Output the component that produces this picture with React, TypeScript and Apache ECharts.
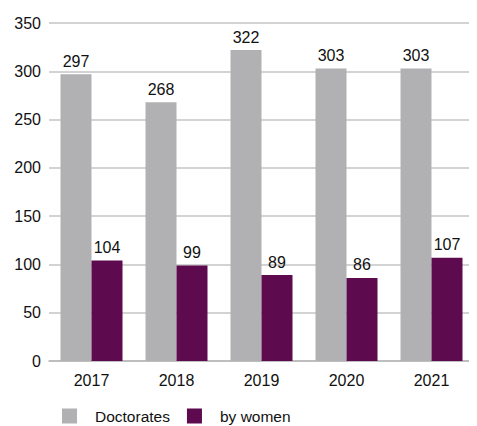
import React, { useEffect, useRef } from "react";
import * as echarts from "echarts";

const years = ["2017", "2018", "2019", "2020", "2021"];
const doctorates = [297, 268, 322, 303, 303];
const byWomen = [104, 99, 89, 86, 107];
const yTicks = { min: 0, max: 350, interval: 50 };

export default function App() {
  const ref = useRef<HTMLDivElement>(null);
  useEffect(() => {
    const chart = echarts.init(ref.current!, null, { renderer: "svg" });
    const font = "Liberation Sans, Arial, sans-serif";
    const label = {
      show: true,
      position: "top",
      distance: 5,
      color: "#111",
      fontSize: 16,
      fontFamily: font,
    };
    chart.setOption({
      animation: false,
      grid: { left: 49, right: 3, top: 23, bottom: 65 },
      xAxis: {
        type: "category",
        data: years,
        axisTick: { show: false },
        axisLine: { lineStyle: { color: "#b8b8b8", width: 1.5 } },
        axisLabel: { color: "#111", fontSize: 16, fontFamily: font, margin: 11 },
      },
      yAxis: {
        type: "value",
        min: yTicks.min,
        max: yTicks.max,
        interval: yTicks.interval,
        axisLabel: { color: "#111", fontSize: 16, fontFamily: font, margin: 8 },
        splitLine: { lineStyle: { color: "#c4c4c4", width: 1.5 } },
      },
      legend: {
        left: 57,
        top: 403,
        itemWidth: 15,
        itemHeight: 15,
        itemGap: 17,
        icon: "rect",
        textStyle: { color: "#111", fontSize: 15.5, fontFamily: font, padding: [0, 0, 0, 13] },
        data: ["Doctorates", "by women"],
      },
      series: [
        {
          name: "Doctorates",
          type: "bar",
          data: doctorates,
          barWidth: 31,
          barGap: "0%",
          itemStyle: { color: "#b1b1b3" },
          label,
        },
        {
          name: "by women",
          type: "bar",
          data: byWomen,
          barWidth: 31,
          itemStyle: { color: "#5e0a4e" },
          label,
        },
      ],
    });
    return () => chart.dispose();
  }, []);
  return <div ref={ref} style={{ width: 477, height: 426, marginLeft: -8, marginTop: -8 }} />;
}
